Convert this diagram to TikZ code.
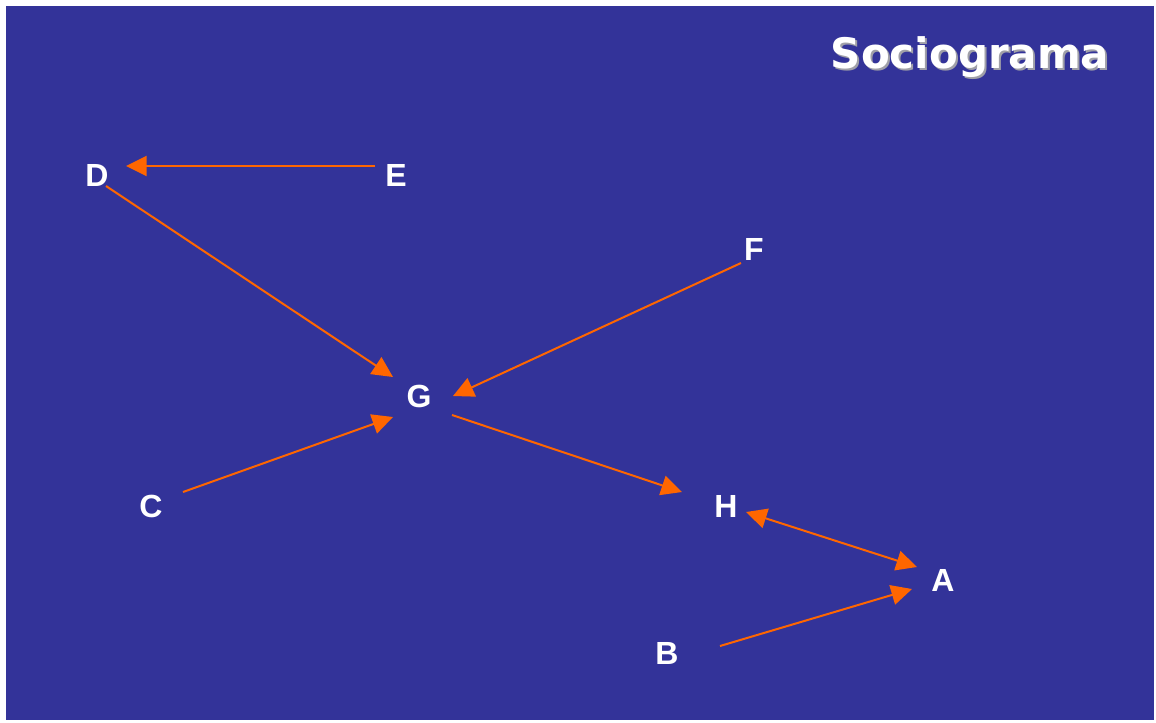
\documentclass[tikz,border=0pt]{standalone}
\usepackage{fontspec}
\setmainfont{Liberation Sans}
\newfontfamily\titlefont{DejaVu Sans}
\usetikzlibrary{arrows.meta}
\definecolor{bgblue}{HTML}{333399}
\definecolor{arrorange}{HTML}{FF6600}
\definecolor{shadowgray}{HTML}{A0A0A8}
\tikzset{
  lbl/.style={text=white, font=\fontsize{24}{28}\selectfont\bfseries, inner sep=0pt},
  link/.style={draw=arrorange, line width=1.5pt, -{Triangle[length=15.5pt,width=15pt]}},
  dlink/.style={draw=arrorange, line width=1.5pt, {Triangle[length=15.5pt,width=15pt]}-{Triangle[length=15.5pt,width=15pt]}},
}
\begin{document}
\begin{tikzpicture}[x=0.75pt,y=-0.75pt]
\useasboundingbox (0,0) rectangle (1156,722);
\fill[white] (0,0) rectangle (1156,722);
\fill[bgblue] (6,6) rectangle (1154,720);
% title
\node[text=shadowgray, font=\titlefont\fontsize{31.5}{36}\selectfont\bfseries, inner sep=0pt] (titleshadow) at (972,59) {Sociograma};
\node[text=white, font=\titlefont\fontsize{31.5}{36}\selectfont\bfseries, inner sep=0pt] (title) at (970,57) {Sociograma};
% nodes
\node[lbl] (D) at (97,175) {D};
\node[lbl] (E) at (396,175) {E};
\node[lbl] (F) at (754,249) {F};
\node[lbl] (G) at (419,396) {G};
\node[lbl] (C) at (151,506) {C};
\node[lbl] (H) at (726,506) {H};
\node[lbl] (A) at (943,580) {A};
\node[lbl] (B) at (667,653) {B};
% connector end points
\coordinate (Eout) at (375,166);
\coordinate (Din) at (126,166);
\coordinate (Dout) at (106,186);
\coordinate (GinD) at (393,377);
\coordinate (Fout) at (741,263);
\coordinate (GinF) at (453,396);
\coordinate (Cout) at (183,492);
\coordinate (GinC) at (393,417);
\coordinate (Gout) at (452,415);
\coordinate (HinG) at (682,492);
\coordinate (Hend) at (746,512);
\coordinate (AinH) at (917,567);
\coordinate (Bout) at (720,646);
\coordinate (AinB) at (912,589);
% connectors
\draw[link] (Eout) -- (Din);
\draw[link] (Dout) -- (GinD);
\draw[link] (Fout) -- (GinF);
\draw[link] (Cout) -- (GinC);
\draw[link] (Gout) -- (HinG);
\draw[dlink] (Hend) -- (AinH);
\draw[link] (Bout) -- (AinB);
\end{tikzpicture}
\end{document}
